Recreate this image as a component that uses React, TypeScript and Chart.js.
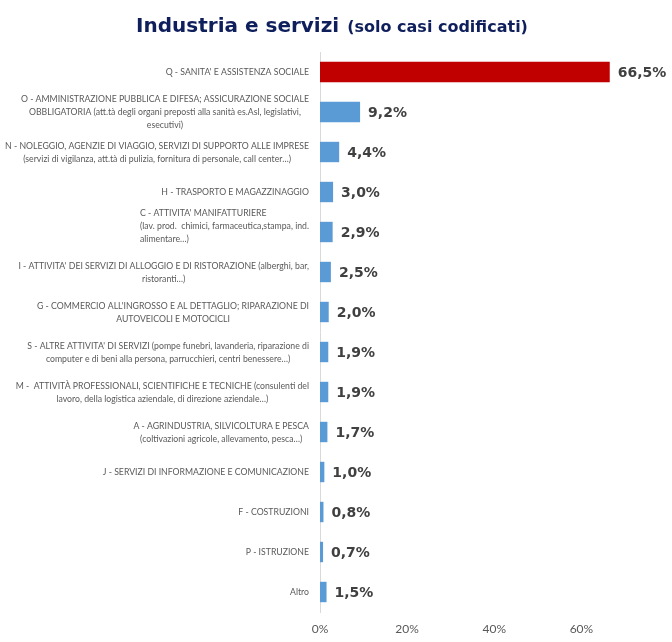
import React, { useEffect, useRef } from "react";
import { Chart, registerables } from "chart.js";

Chart.register(...registerables);

// Sector labels, one entry per bar, each entry split into its printed lines
const sectorLines: string[][] = [
  ["Q - SANITA' E ASSISTENZA SOCIALE"],
  [
    "O - AMMINISTRAZIONE PUBBLICA E DIFESA; ASSICURAZIONE SOCIALE",
    "OBBLIGATORIA (att.tà degli organi preposti alla sanità es.Asl, legislativi,",
    "esecutivi)",
  ],
  [
    "N - NOLEGGIO, AGENZIE DI VIAGGIO, SERVIZI DI SUPPORTO ALLE IMPRESE",
    "(servizi di vigilanza, att.tà di pulizia, fornitura di personale, call center…)",
  ],
  ["H - TRASPORTO E MAGAZZINAGGIO"],
  [
    "C - ATTIVITA' MANIFATTURIERE",
    "(lav. prod.  chimici, farmaceutica,stampa, ind.",
    "alimentare…)",
  ],
  [
    "I - ATTIVITA' DEI SERVIZI DI ALLOGGIO E DI RISTORAZIONE (alberghi, bar,",
    "ristoranti…)",
  ],
  [
    "G - COMMERCIO ALL'INGROSSO E AL DETTAGLIO; RIPARAZIONE DI",
    "AUTOVEICOLI E MOTOCICLI",
  ],
  [
    "S - ALTRE ATTIVITA' DI SERVIZI (pompe funebri, lavanderia, riparazione di",
    "computer e di beni alla persona, parrucchieri, centri benessere…)",
  ],
  [
    "M -  ATTIVITÀ PROFESSIONALI, SCIENTIFICHE E TECNICHE (consulenti del",
    "lavoro, della logistica aziendale, di direzione aziendale…)",
  ],
  [
    "A - AGRINDUSTRIA, SILVICOLTURA E PESCA",
    "(coltivazioni agricole, allevamento, pesca…)",
  ],
  ["J - SERVIZI DI INFORMAZIONE E COMUNICAZIONE"],
  ["F - COSTRUZIONI"],
  ["P - ISTRUZIONE"],
  ["Altro"],
];

// Share of coded cases per sector (%)
const shares: number[] = [66.5, 9.2, 4.4, 3.0, 2.9, 2.5, 2.0, 1.9, 1.9, 1.7, 1.0, 0.8, 0.7, 1.5];

// Value axis range and labelled ticks (%)
const axisMax = 70;
const axisTicks: number[] = [0, 20, 40, 60];

const titleMain = "Industria e servizi";
const titleSub = "(solo casi codificati)";

const RED = "#C00000";
const BLUE = "#5B9BD5";
const LABEL_GRAY = "#595959";
const VALUE_GRAY = "#404040";
const NAVY = "#0F1F5C";

const LABEL_FONT_FAMILY = "Lato, 'Open Sans', sans-serif";
const LABEL_FONT = `10px ${LABEL_FONT_FAMILY}`;
const LABEL_SQUEEZE = 0.87; // narrow set of the category text
const LABEL_LINE_H = 13;

// Blocks whose lines are set flush-left instead of centred, with a small vertical nudge
const blockStyle: Record<number, { align: "left"; dy: number }> = {
  4: { align: "left", dy: -6 },
};

const titlePlugin = {
  id: "twoPartTitle",
  beforeDraw(chart: Chart) {
    const { ctx } = chart;
    ctx.save();
    ctx.fillStyle = NAVY;
    ctx.textBaseline = "alphabetic";
    ctx.textAlign = "left";
    const mainFont = "bold 20px 'DejaVu Sans', Verdana, sans-serif";
    const subFont = "bold 16px 'DejaVu Sans', Verdana, sans-serif";
    ctx.font = mainFont;
    const w1 = ctx.measureText(titleMain).width;
    ctx.font = subFont;
    const w2 = ctx.measureText(titleSub).width;
    const gap = 8;
    const total = w1 + gap + w2;
    const cx = 332;
    let x = cx - total / 2;
    const baseline = 32;
    ctx.font = mainFont;
    ctx.fillText(titleMain, x, baseline);
    x += w1 + gap;
    ctx.font = subFont;
    ctx.fillText(titleSub, x, baseline);
    ctx.restore();
  },
};

const categoryLabelPlugin = {
  id: "categoryLabels",
  afterDraw(chart: Chart) {
    const { ctx, chartArea } = chart;
    const yScale = chart.scales.y;
    ctx.save();
    ctx.font = LABEL_FONT;
    ctx.fillStyle = LABEL_GRAY;
    ctx.textBaseline = "middle";
    const right = chartArea.left - 11;
    sectorLines.forEach((lines, i) => {
      const cy = yScale.getPixelForTick(i);
      const w = Math.max(...lines.map((l) => ctx.measureText(l).width)) * LABEL_SQUEEZE;
      const left = right - w;
      const style = blockStyle[i];
      const n = lines.length;
      lines.forEach((line, j) => {
        const ly = cy + (j - (n - 1) / 2) * LABEL_LINE_H + (style ? style.dy : 0);
        const alignLeft = style && style.align === "left";
        ctx.save();
        ctx.translate(alignLeft ? left : left + w / 2, ly);
        ctx.scale(LABEL_SQUEEZE, 1);
        ctx.textAlign = alignLeft ? "left" : "center";
        ctx.fillText(line, 0, 0);
        ctx.restore();
      });
    });
    ctx.restore();
  },
};

const valueLabelPlugin = {
  id: "valueLabels",
  afterDatasetsDraw(chart: Chart) {
    const { ctx } = chart;
    const meta = chart.getDatasetMeta(0);
    ctx.save();
    ctx.font = "bold 14px 'DejaVu Sans', Verdana, sans-serif";
    ctx.fillStyle = VALUE_GRAY;
    ctx.textAlign = "left";
    ctx.textBaseline = "middle";
    meta.data.forEach((bar: any, i: number) => {
      const txt = shares[i].toFixed(1).replace(".", ",") + "%";
      ctx.fillText(txt, bar.x + 8, bar.y + 1);
    });
    ctx.restore();
  },
};

export default function App() {
  const canvasRef = useRef<HTMLCanvasElement>(null);

  useEffect(() => {
    if (!canvasRef.current) return;
    const chart = new Chart(canvasRef.current, {
      type: "bar",
      data: {
        labels: sectorLines.map((l) => l.join(" ")),
        datasets: [
          {
            data: shares,
            backgroundColor: shares.map((_, i) => (i === 0 ? RED : BLUE)),
            borderWidth: 0,
            barPercentage: 0.51,
            categoryPercentage: 1,
          },
        ],
      },
      options: {
        indexAxis: "y",
        responsive: false,
        devicePixelRatio: 1,
        animation: false,
        layout: { padding: { top: 52, right: 47, bottom: 0, left: 0 } },
        plugins: {
          legend: { display: false },
          title: { display: false },
          tooltip: { enabled: false },
        },
        scales: {
          y: {
            ticks: { display: false },
            grid: { display: false, drawTicks: false },
            border: { display: true, color: "#D9D9D9", width: 1 },
            afterFit: (s: any) => {
              s.width = 320;
            },
          },
          x: {
            min: 0,
            max: axisMax,
            afterBuildTicks: (s: any) => {
              s.ticks = axisTicks.map((v) => ({ value: v }));
            },
            ticks: {
              padding: 10,
              color: LABEL_GRAY,
              font: { family: LABEL_FONT_FAMILY, size: 12 },
              callback: (v: any) => `${v}%`,
            },
            grid: { display: false, drawTicks: false },
            border: { display: false },
            afterFit: (s: any) => {
              s.height = 30;
            },
          },
        },
      },
      plugins: [titlePlugin, categoryLabelPlugin, valueLabelPlugin],
    });
    return () => chart.destroy();
  }, []);

  return (
    <div style={{ position: "fixed", left: 0, top: 0, width: 672, height: 642, background: "#fff" }}>
      <canvas ref={canvasRef} width={672} height={642} />
    </div>
  );
}
